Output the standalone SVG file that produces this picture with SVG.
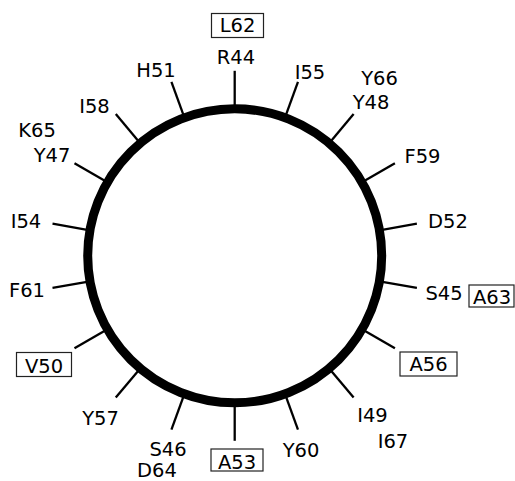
<svg xmlns="http://www.w3.org/2000/svg" width="515" height="481" viewBox="0 0 515 481">
<style>
text{font-family:"DejaVu Sans","Liberation Sans",sans-serif;font-size:19.5px;fill:#000;text-anchor:middle}
.box{fill:#fff;stroke:#222;stroke-width:1.2}
.tick{stroke:#000;stroke-width:2.3}
</style>
<rect width="515" height="481" fill="#fff"/>
<g id="wheel">
<circle cx="234.7" cy="255.8" r="147" fill="none" stroke="#000" stroke-width="9"/>
</g>
<g id="connectors" transform="translate(234.7,255.8)">
<line class="tick" x1="0" y1="-147" x2="0" y2="-185" transform="rotate(0)"/>
<line class="tick" x1="0" y1="-147" x2="0" y2="-185" transform="rotate(20)"/>
<line class="tick" x1="0" y1="-147" x2="0" y2="-185" transform="rotate(40)"/>
<line class="tick" x1="0" y1="-147" x2="0" y2="-185" transform="rotate(60)"/>
<line class="tick" x1="0" y1="-147" x2="0" y2="-185" transform="rotate(80)"/>
<line class="tick" x1="0" y1="-147" x2="0" y2="-185" transform="rotate(100)"/>
<line class="tick" x1="0" y1="-147" x2="0" y2="-185" transform="rotate(120)"/>
<line class="tick" x1="0" y1="-147" x2="0" y2="-185" transform="rotate(140)"/>
<line class="tick" x1="0" y1="-147" x2="0" y2="-185" transform="rotate(160)"/>
<line class="tick" x1="0" y1="-147" x2="0" y2="-185" transform="rotate(180)"/>
<line class="tick" x1="0" y1="-147" x2="0" y2="-185" transform="rotate(200)"/>
<line class="tick" x1="0" y1="-147" x2="0" y2="-185" transform="rotate(220)"/>
<line class="tick" x1="0" y1="-147" x2="0" y2="-185" transform="rotate(240)"/>
<line class="tick" x1="0" y1="-147" x2="0" y2="-185" transform="rotate(260)"/>
<line class="tick" x1="0" y1="-147" x2="0" y2="-185" transform="rotate(280)"/>
<line class="tick" x1="0" y1="-147" x2="0" y2="-185" transform="rotate(300)"/>
<line class="tick" x1="0" y1="-147" x2="0" y2="-185" transform="rotate(320)"/>
<line class="tick" x1="0" y1="-147" x2="0" y2="-185" transform="rotate(340)"/>
</g>
<g id="L62"><rect class="box" x="211.5" y="13.5" width="52" height="24"/><text x="237.5" y="32">L62</text></g>
<g id="R44"><text x="236" y="64">R44</text></g>
<g id="H51"><text x="156" y="77">H51</text></g>
<g id="I58"><text x="94.5" y="113">I58</text></g>
<g id="K65"><text x="37" y="137">K65</text></g>
<g id="Y47"><text x="52" y="162">Y47</text></g>
<g id="I54"><text x="26" y="228">I54</text></g>
<g id="I55"><text x="310" y="79">I55</text></g>
<g id="Y66"><text x="379.5" y="85">Y66</text></g>
<g id="Y48"><text x="371" y="109">Y48</text></g>
<g id="F59"><text x="422.5" y="163">F59</text></g>
<g id="D52"><text x="448" y="228">D52</text></g>
<g id="F61"><text x="27" y="297">F61</text></g>
<g id="V50"><rect class="box" x="16.5" y="352.5" width="55" height="24"/><text x="44" y="373">V50</text></g>
<g id="Y57"><text x="100.5" y="425">Y57</text></g>
<g id="S46"><text x="168" y="455.5">S46</text></g>
<g id="D64"><text x="157" y="476.5">D64</text></g>
<g id="A53"><rect class="box" x="211" y="449" width="52" height="22"/><text x="237" y="468.5">A53</text></g>
<g id="S45"><text x="444" y="300">S45</text></g>
<g id="A63"><rect class="box" x="469" y="285" width="45" height="22"/><text x="492" y="303.5">A63</text></g>
<g id="A56"><rect class="box" x="400" y="352" width="57" height="24"/><text x="428.5" y="371">A56</text></g>
<g id="I49"><text x="372.5" y="421.5">I49</text></g>
<g id="I67"><text x="393" y="448">I67</text></g>
<g id="Y60"><text x="301" y="456.5">Y60</text></g>
</svg>
